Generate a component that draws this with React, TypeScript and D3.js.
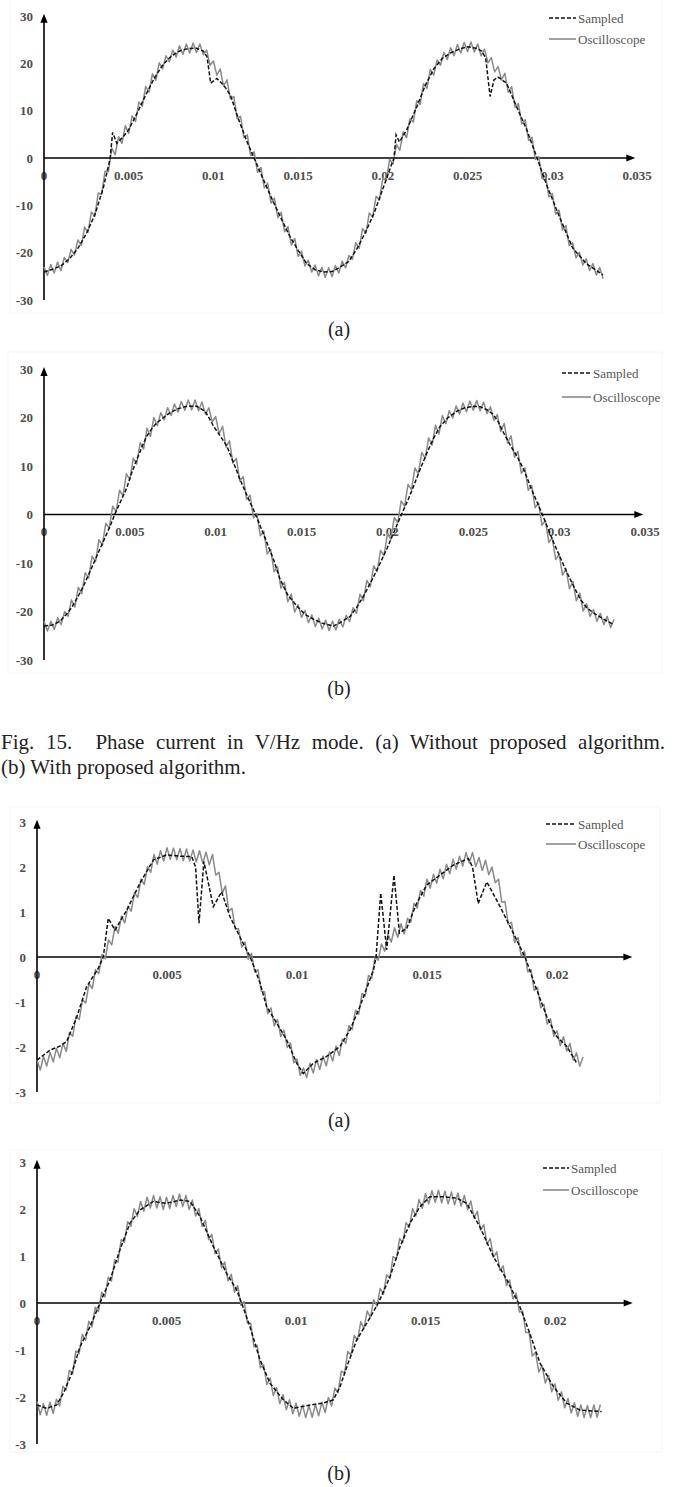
import { useEffect, useRef } from 'react';
import * as d3 from 'd3';

const SERIF = '"Liberation Serif", "Times New Roman", Times, serif';

// axis ticks
const FIG15_X_TICKS = [0, 0.005, 0.01, 0.015, 0.02, 0.025, 0.03, 0.035];
const FIG15_X_LABELS = ['0', '0.005', '0.01', '0.015', '0.02', '0.025', '0.03', '0.035'];
const FIG15_Y_TICKS = [30, 20, 10, 0, -10, -20, -30];
const FIG16_X_TICKS = [0, 0.005, 0.01, 0.015, 0.02];
const FIG16_X_LABELS = ['0', '0.005', '0.01', '0.015', '0.02'];
const FIG16_Y_TICKS = [3, 2, 1, 0, -1, -2, -3];

const SERIES_NAMES = ['Sampled', 'Oscilloscope'];
const PANEL_LABELS = ['(a)', '(b)'];
const CAPTION_LINES = [
  'Fig. 15.  Phase current in V/Hz mode. (a) Without proposed algorithm.',
  '(b) With proposed algorithm.',
];

// oscilloscope traces are stored on a fixed time step
const FIG15_SCOPE_DT = 0.0002;
const FIG16_SCOPE_DT = 0.000125;

// Fig. 15(a) — [time s, current A]
const fig15aSampled: [number, number][] = [
  [0, -24.1], [0.0005, -23.5], [0.001, -22.8], [0.0015, -21.3], [0.002, -19.1], [0.0025, -16.0],
  [0.003, -12.0], [0.0035, -6.3], [0.0039, -0.2], [0.00405, 5.4], [0.0043, 3.1], [0.0047, 4.6],
  [0.005, 6.0], [0.0055, 9.5], [0.006, 13.3], [0.0065, 16.8], [0.007, 19.6], [0.0075, 21.5],
  [0.008, 22.6], [0.0085, 23.1], [0.009, 23.2], [0.0094, 22.6], [0.00962, 21.4], [0.00984, 15.8],
  [0.0102, 16.8], [0.0106, 15.4], [0.011, 13.3], [0.0115, 8.0], [0.012, 3.3], [0.0124, 0],
  [0.013, -5.0], [0.0135, -9.0], [0.014, -12.8], [0.0145, -16.5], [0.015, -19.5], [0.0155, -22.3],
  [0.016, -23.6], [0.0165, -24.1], [0.017, -24.0], [0.0175, -23.0], [0.018, -21.8], [0.0185, -19.0],
  [0.019, -15.5], [0.0195, -11.5], [0.02, -6.5], [0.0205, -1.5], [0.02066, 0], [0.02078, 4.9],
  [0.02098, 3.4], [0.0214, 5.9], [0.022, 10.8], [0.0225, 15.3], [0.023, 18.8], [0.0235, 21.0],
  [0.024, 22.2], [0.0245, 23.0], [0.025, 23.5], [0.0255, 23.2], [0.02584, 22.6], [0.02607, 21.1],
  [0.02633, 13.0], [0.02656, 16.5], [0.0268, 17.1], [0.0273, 15.8], [0.0279, 10.8], [0.0285, 5.9],
  [0.0291, 0], [0.0297, -6.0], [0.0305, -13.1], [0.0312, -19.0], [0.032, -22.3], [0.033, -24.7],
];
const fig15aScope = [
  -23.0, -24.8, -22.5, -24.3, -22.0, -23.8, -21.0, -22.1, -19.3, -20.5,
  -17.3, -18.5, -14.6, -15.7, -11.4, -12.3, -7.4, -7.7, -2.8, -2.9,
  2.1, 0.7, 4.5, 3.1, 6.8, 5.2, 8.9, 7.7, 11.8, 10.9,
  15.1, 13.9, 17.8, 16.4, 20.1, 18.8, 21.6, 20.3, 22.8, 21.3,
  23.7, 21.9, 24.1, 22.2, 24.3, 22.3, 24.1, 21.8, 22.8, 19.6,
  20.5, 17.5, 18.8, 15.2, 16.5, 12.5, 13.0, 8.3, 8.8, 4.3,
  4.9, 0.5, 1.3, -3.0, -2.0, -6.3, -5.3, -9.5, -8.5, -12.6,
  -11.5, -15.6, -14.5, -18.4, -17.0, -20.8, -19.7, -22.8, -21.6, -24.1,
  -22.6, -24.9, -23.1, -25.2, -23.2, -25.1, -22.7, -24.3, -21.8, -23.2,
  -20.6, -21.4, -17.9, -19.1, -14.9, -15.9, -11.6, -12.5, -8.1, -8.8,
  -4.2, -4.8, -0.3, -1.3, 2.9, 1.6, 5.5, 4.3, 8.3, 7.6,
  12.1, 11.3, 15.7, 14.7, 18.7, 17.5, 20.7, 19.6, 22.3, 20.8,
  23.3, 21.6, 24.0, 22.2, 24.4, 22.5, 24.5, 22.4, 24.1, 21.6,
  23.0, 20.1, 21.2, 18.2, 19.3, 16.5, 17.9, 13.9, 15.1, 10.7,
  11.5, 7.2, 8.1, 3.7, 4.4, -0.3, 0.3, -4.3, -3.7, -8.2,
  -7.5, -11.9, -11.0, -15.2, -14.3, -18.5, -17.9, -21.1, -19.9, -22.6,
  -21.3, -23.8, -22.3, -24.7, -23.1, -25.5,
];

// Fig. 15(b)
const fig15bSampled: [number, number][] = [
  [0, -23.0], [0.0005, -22.8], [0.00093, -22.0], [0.0013, -20.6], [0.00161, -19.2], [0.002, -16.8],
  [0.00229, -14.8], [0.0027, -11.6], [0.00307, -8.6], [0.0035, -5.2], [0.00385, -2.4], [0.00414, 0.2],
  [0.0045, 3.0], [0.00482, 5.5], [0.0051, 8.5], [0.0054, 11.3], [0.0057, 13.9], [0.00598, 16.1],
  [0.0063, 17.8], [0.00657, 18.9], [0.007, 20.1], [0.00734, 21.0], [0.0078, 21.8], [0.00832, 22.3],
  [0.0089, 22.3], [0.00938, 21.3], [0.0096, 20.0], [0.00987, 18.2], [0.0103, 16.0], [0.01065, 14.1],
  [0.011, 11.0], [0.01142, 7.2], [0.0119, 3.3], [0.0123, 0.2], [0.01298, -5.8], [0.0134, -9.6],
  [0.01375, -13.4], [0.0142, -16.6], [0.01473, -18.9], [0.0152, -20.6], [0.01569, -21.6], [0.0162, -22.4],
  [0.01686, -23.0], [0.01725, -22.3], [0.01783, -21.0], [0.0182, -19.2], [0.01861, -16.8], [0.0191, -13.5],
  [0.01958, -10.0], [0.02, -6.8], [0.02036, -3.8], [0.02084, 0.2], [0.0212, 3.0], [0.02152, 5.8],
  [0.0219, 9.3], [0.0223, 12.7], [0.0227, 15.8], [0.02308, 18.2], [0.0235, 19.9], [0.02405, 21.3],
  [0.0245, 22.0], [0.02502, 22.3], [0.0254, 22.2], [0.0258, 21.6], [0.0261, 20.8], [0.02638, 19.6],
  [0.02677, 16.8], [0.0272, 14.0], [0.02755, 12.0], [0.028, 8.8], [0.02832, 5.8], [0.029, 0.2],
  [0.02968, -5.8], [0.03046, -12.0], [0.0309, -15.2], [0.03124, -17.5], [0.0316, -19.2], [0.03201, -20.3],
  [0.0326, -21.6], [0.03318, -22.7],
];
const fig15bScope = [
  -22.0, -24.0, -22.0, -23.7, -21.3, -22.7, -20.0, -21.0, -17.6, -19.1,
  -15.0, -16.3, -12.0, -13.1, -8.6, -9.7, -5.2, -6.3, -1.8, -2.8,
  1.7, 0.6, 5.0, 3.9, 8.4, 7.2, 11.6, 10.4, 14.8, 13.5,
  17.8, 16.1, 20.0, 18.3, 21.0, 19.5, 22.0, 20.4, 22.8, 21.1,
  23.3, 21.5, 23.6, 21.6, 23.6, 21.4, 23.2, 20.7, 22.0, 19.1,
  20.2, 16.6, 18.2, 13.9, 15.2, 10.6, 11.6, 6.9, 7.8, 3.1,
  4.0, -0.7, 0.2, -4.4, -3.4, -8.1, -7.2, -11.8, -10.8, -15.2,
  -14.0, -18.0, -16.4, -20.1, -18.6, -21.2, -19.8, -22.3, -20.7, -23.1,
  -21.4, -23.6, -21.8, -23.9, -22.0, -23.8, -21.6, -23.2, -20.8, -22.1,
  -19.2, -20.4, -16.4, -17.8, -13.6, -14.9, -10.6, -11.8, -7.4, -8.5,
  -4.0, -5.1, -0.6, -1.7, 2.8, 1.7, 6.2, 5.1, 9.6, 8.4,
  12.8, 11.5, 15.8, 14.3, 18.4, 16.6, 20.4, 18.7, 21.4, 19.9,
  22.4, 20.7, 23.0, 21.2, 23.4, 21.5, 23.5, 21.4, 23.2, 20.8,
  22.2, 19.4, 20.6, 17.1, 18.8, 14.7, 16.2, 11.8, 13.0, 8.5,
  9.6, 5.0, 6.0, 1.4, 2.4, -2.2, -1.2, -5.8, -4.8, -9.3,
  -8.2, -12.5, -11.2, -15.3, -13.8, -17.8, -16.2, -19.9, -18.4, -21.0,
  -19.6, -22.0, -20.4, -22.7, -21.0, -23.3, -21.6,
];

// Fig. 16(a)
const fig16aSampled: [number, number][] = [
  [0, -2.29], [0.0005, -2.07], [0.00088, -1.98], [0.00114, -1.88], [0.00153, -1.33], [0.00191, -0.66],
  [0.00236, -0.25], [0.00255, 0], [0.00274, 0.86], [0.003, 0.6], [0.00345, 1.04], [0.00396, 1.64],
  [0.00448, 2.16], [0.00499, 2.27], [0.0055, 2.24], [0.00595, 2.23], [0.0061, 2.0], [0.00623, 0.75],
  [0.00642, 2.12], [0.00678, 1.12], [0.0071, 1.45], [0.00742, 0.9], [0.0078, 0.45], [0.0082, 0],
  [0.00858, -0.58], [0.00883, -1.1], [0.00922, -1.47], [0.0096, -1.84], [0.00999, -2.36], [0.01024, -2.59],
  [0.01063, -2.36], [0.01114, -2.21], [0.01165, -1.99], [0.01204, -1.62], [0.01242, -1.1], [0.01294, -0.29],
  [0.01304, 0], [0.01322, 1.42], [0.01345, 0.16], [0.01373, 1.82], [0.01394, 0.53], [0.01422, 0.64],
  [0.0146, 1.19], [0.01499, 1.6], [0.0155, 1.82], [0.01601, 2.04], [0.01659, 2.19], [0.01675, 2.0],
  [0.01697, 1.19], [0.0173, 1.67], [0.01781, 1.12], [0.01832, 0.53], [0.01877, 0], [0.01922, -0.73],
  [0.01961, -1.33], [0.01999, -1.77], [0.02038, -1.99], [0.02076, -2.36],
];
const fig16aScope = [
  -2.29, -2.51, -2.21, -2.42, -2.12, -2.33, -2.03, -2.24, -1.92, -2.10,
  -1.68, -1.76, -1.32, -1.39, -0.95, -1.02, -0.59, -0.70, -0.28, -0.37,
  0.06, -0.04, 0.38, 0.27, 0.68, 0.53, 0.91, 0.76, 1.13, 1.02,
  1.43, 1.32, 1.73, 1.61, 2.01, 1.88, 2.28, 2.06, 2.36, 2.13,
  2.43, 2.17, 2.42, 2.16, 2.41, 2.14, 2.40, 2.13, 2.38, 2.11,
  2.36, 2.08, 2.33, 2.05, 2.28, 1.82, 1.88, 1.42, 1.58, 1.02,
  1.08, 0.62, 0.63, 0.22, 0.33, -0.05, 0.08, -0.33, -0.28, -0.76,
  -0.77, -1.26, -1.13, -1.53, -1.39, -1.77, -1.63, -2.01, -1.91, -2.35,
  -2.27, -2.63, -2.47, -2.68, -2.36, -2.58, -2.28, -2.50, -2.20, -2.42,
  -2.11, -2.31, -1.98, -2.19, -1.82, -1.92, -1.52, -1.61, -1.18, -1.27,
  -0.81, -0.87, -0.41, -0.47, 0.00, -0.07, 0.29, 0.13, 0.50, 0.33,
  0.65, 0.44, 0.74, 0.51, 0.86, 0.77, 1.19, 1.09, 1.48, 1.35,
  1.73, 1.53, 1.84, 1.64, 1.95, 1.74, 2.06, 1.85, 2.17, 1.95,
  2.24, 2.02, 2.32, 2.09, 2.32, 2.01, 2.21, 1.92, 2.15, 1.83,
  2.00, 1.65, 1.73, 1.22, 1.23, 0.73, 0.77, 0.32, 0.43, 0.02,
  0.13, -0.33, -0.28, -0.74, -0.68, -1.13, -1.05, -1.49, -1.37, -1.76,
  -1.64, -1.97, -1.77, -2.09, -1.92, -2.29, -2.13, -2.43, -2.22,
];

// Fig. 16(b)
const fig16bSampled: [number, number][] = [
  [0, -2.17], [0.00037, -2.24], [0.00076, -2.17], [0.00102, -1.92], [0.00134, -1.5], [0.00166, -0.93],
  [0.00205, -0.5], [0.00243, 0], [0.00282, 0.49], [0.0032, 1.13], [0.00359, 1.7], [0.00398, 1.98],
  [0.00449, 2.16], [0.005, 2.12], [0.00552, 2.19], [0.00591, 2.16], [0.00629, 1.84], [0.00681, 1.2],
  [0.00732, 0.63], [0.00771, 0.28], [0.0079, 0], [0.00822, -0.5], [0.00861, -1.21], [0.009, -1.71],
  [0.00951, -2.06], [0.0099, -2.24], [0.01054, -2.17], [0.01105, -2.13], [0.01144, -2.06], [0.0117, -1.78],
  [0.01196, -1.36], [0.01234, -0.79], [0.01273, -0.43], [0.01318, 0], [0.01363, 0.56], [0.01402, 1.2],
  [0.0144, 1.7], [0.01479, 2.05], [0.01517, 2.26], [0.01569, 2.26], [0.01621, 2.23], [0.01659, 2.12],
  [0.0171, 1.62], [0.01762, 0.99], [0.01814, 0.49], [0.01859, 0], [0.01903, -0.65], [0.01942, -1.28],
  [0.01994, -1.78], [0.02045, -2.13], [0.02097, -2.28], [0.0218, -2.31],
];
const fig16bScope = [
  -2.09, -2.38, -2.14, -2.39, -2.11, -2.35, -2.05, -2.19, -1.77, -1.85,
  -1.43, -1.51, -1.02, -1.08, -0.67, -0.79, -0.39, -0.51, -0.09, -0.18,
  0.23, 0.13, 0.55, 0.47, 0.92, 0.87, 1.35, 1.29, 1.73, 1.63,
  2.01, 1.84, 2.16, 1.95, 2.25, 2.02, 2.29, 2.02, 2.26, 1.99,
  2.25, 2.01, 2.29, 2.05, 2.32, 2.05, 2.29, 1.99, 2.19, 1.85,
  2.01, 1.63, 1.76, 1.35, 1.46, 1.05, 1.15, 0.75, 0.87, 0.47,
  0.61, 0.23, 0.37, -0.05, 0.03, -0.43, -0.43, -0.93, -0.90, -1.38,
  -1.31, -1.73, -1.60, -1.97, -1.80, -2.14, -1.95, -2.27, -2.06, -2.36,
  -2.13, -2.41, -2.17, -2.44, -2.18, -2.43, -2.16, -2.40, -2.11, -2.33,
  -2.01, -2.19, -1.81, -1.91, -1.45, -1.49, -1.03, -1.11, -0.69, -0.79,
  -0.40, -0.54, -0.17, -0.31, 0.07, -0.07, 0.31, 0.19, 0.60, 0.52,
  0.99, 0.93, 1.37, 1.29, 1.71, 1.61, 2.01, 1.85, 2.20, 2.01,
  2.33, 2.11, 2.39, 2.14, 2.40, 2.13, 2.38, 2.11, 2.36, 2.09,
  2.34, 2.06, 2.29, 1.99, 2.17, 1.81, 1.95, 1.55, 1.67, 1.25,
  1.37, 0.97, 1.09, 0.69, 0.79, 0.37, 0.49, 0.09, 0.21, -0.19,
  -0.17, -0.63, -0.63, -1.13, -1.05, -1.47, -1.33, -1.70, -1.54, -1.89,
  -1.72, -2.07, -1.89, -2.23, -2.03, -2.34, -2.12, -2.41, -2.17, -2.44,
  -2.18, -2.44, -2.17, -2.43, -2.16,
];

type Pt = [number, number];
type PanelCfg = {
  sampled: Pt[];
  scope: number[];
  dt: number;
  xTicks: number[];
  xLabels: string[];
  yTicks: number[];
  xDomain: [number, number];
  xRange: [number, number];
  yDomain: [number, number];
  yRange: [number, number];
  xTip: number;
  yTip: number;
  legend: { x: number; y: number; gap: number; len: number };
  label: string;
  labelY: number;
  frame: [number, number, number, number];
};

const PANELS: PanelCfg[] = [
  {
    sampled: fig15aSampled, scope: fig15aScope, dt: FIG15_SCOPE_DT,
    xTicks: FIG15_X_TICKS, xLabels: FIG15_X_LABELS, yTicks: FIG15_Y_TICKS,
    xDomain: [0, 0.035], xRange: [44, 637], yDomain: [-30, 30], yRange: [300, 16],
    xTip: 0.0349, yTip: 30.5,
    legend: { x: 549, y: 18, gap: 21, len: 27 },
    label: PANEL_LABELS[0], labelY: 329, frame: [10, -2, 662, 313],
  },
  {
    sampled: fig15bSampled, scope: fig15bScope, dt: FIG15_SCOPE_DT,
    xTicks: FIG15_X_TICKS, xLabels: FIG15_X_LABELS, yTicks: FIG15_Y_TICKS,
    xDomain: [0, 0.035], xRange: [44, 645], yDomain: [-30, 30], yRange: [660, 369],
    xTip: 0.0349, yTip: 30.4,
    legend: { x: 562, y: 373, gap: 24, len: 29 },
    label: PANEL_LABELS[1], labelY: 688, frame: [8, 352, 662, 673],
  },
  {
    sampled: fig16aSampled, scope: fig16aScope, dt: FIG16_SCOPE_DT,
    xTicks: FIG16_X_TICKS, xLabels: FIG16_X_LABELS, yTicks: FIG16_Y_TICKS,
    xDomain: [0, 0.02], xRange: [37, 557], yDomain: [-3, 3], yRange: [1092, 822],
    xTip: 0.0229, yTip: 3.05,
    legend: { x: 546, y: 824, gap: 20, len: 30 },
    label: PANEL_LABELS[0], labelY: 1120, frame: [10, 807, 660, 1103],
  },
  {
    sampled: fig16bSampled, scope: fig16bScope, dt: FIG16_SCOPE_DT,
    xTicks: FIG16_X_TICKS, xLabels: FIG16_X_LABELS, yTicks: FIG16_Y_TICKS,
    xDomain: [0, 0.02], xRange: [37, 555], yDomain: [-3, 3], yRange: [1444, 1162],
    xTip: 0.023, yTip: 3.05,
    legend: { x: 543, y: 1168, gap: 22, len: 26 },
    label: PANEL_LABELS[1], labelY: 1473, frame: [10, 1150, 662, 1452],
  },
];

const SAMPLED_COLOR = '#111';
const SCOPE_COLOR = '#8a8a8a';
const TICK_COLOR = '#4d4d4d';

function Panel({ p }: { p: PanelCfg }) {
  const x = d3.scaleLinear().domain(p.xDomain).range(p.xRange);
  const y = d3.scaleLinear().domain(p.yDomain).range(p.yRange);
  const line = d3.line<Pt>().x((d) => x(d[0])).y((d) => y(d[1]));
  const scopePts: Pt[] = p.scope.map((v, i) => [i * p.dt, v]);

  const x0 = x(0), y0 = y(0);
  const xEnd = x(p.xTip), yTop = y(p.yTip), yBot = y(p.yDomain[0]);
  const ah = 9, aw = 3.6;
  const lg = p.legend;

  return (
    <g>
      <rect x={p.frame[0]} y={p.frame[1]} width={p.frame[2] - p.frame[0]} height={p.frame[3] - p.frame[1]}
        fill="none" stroke="#f5f5f5" />

      {/* tick labels */}
      <g fontFamily={SERIF} fontWeight="bold" fontSize={13} fill={TICK_COLOR}>
        {p.xTicks.map((t, i) => (
          <text key={`x${i}`} x={x(t)} y={y0 + 17} textAnchor="middle" dominantBaseline="central">{p.xLabels[i]}</text>
        ))}
        {p.yTicks.map((v) => (
          <text key={`y${v}`} x={x0 - 11} y={y(v)} textAnchor="end" dominantBaseline="central">{String(v)}</text>
        ))}
      </g>

      {/* arrowed axes */}
      <line x1={x0} x2={xEnd - ah + 1} y1={y0} y2={y0} stroke="#000" strokeWidth={1.6} />
      <path d={`M${xEnd},${y0}L${xEnd - ah},${y0 - aw}L${xEnd - ah},${y0 + aw}Z`} fill="#000" />
      <line x1={x0} x2={x0} y1={yBot} y2={yTop + ah - 1} stroke="#000" strokeWidth={1.6} />
      <path d={`M${x0},${yTop}L${x0 - aw},${yTop + ah}L${x0 + aw},${yTop + ah}Z`} fill="#000" />

      {/* series */}
      <path d={line(scopePts) ?? ''} fill="none" stroke={SCOPE_COLOR} strokeWidth={1.5} strokeLinejoin="round" />
      <path d={line(p.sampled) ?? ''} fill="none" stroke={SAMPLED_COLOR} strokeWidth={1.5} strokeDasharray="4 2" />

      {/* legend */}
      <g fontFamily={SERIF} fontSize={13} fill="#555">
        <line x1={lg.x} x2={lg.x + lg.len} y1={lg.y} y2={lg.y} stroke={SAMPLED_COLOR} strokeWidth={1.5} strokeDasharray="4 2" />
        <text x={lg.x + lg.len + 2} y={lg.y} dominantBaseline="central">{SERIES_NAMES[0]}</text>
        <line x1={lg.x} x2={lg.x + lg.len} y1={lg.y + lg.gap} y2={lg.y + lg.gap} stroke={SCOPE_COLOR} strokeWidth={1.6} />
        <text x={lg.x + lg.len + 2} y={lg.y + lg.gap} dominantBaseline="central">{SERIES_NAMES[1]}</text>
      </g>

      <text x={339} y={p.labelY} textAnchor="middle" dominantBaseline="central"
        fontFamily={SERIF} fontSize={20} fill="#222">{p.label}</text>
    </g>
  );
}

// first caption line is justified to the column width
function CaptionLine({ text, x0, x1, y, justify }: { text: string; x0: number; x1: number; y: number; justify: boolean }) {
  const ref = useRef<SVGTextElement>(null);
  useEffect(() => {
    const el = ref.current;
    if (!el || !justify) return;
    el.style.wordSpacing = '0px';
    const natural = el.getComputedTextLength();
    const gaps = (text.match(/ /g) || []).length;
    if (gaps > 0) el.style.wordSpacing = `${(x1 - x0 - natural) / gaps}px`;
  }, [text, x0, x1, justify]);
  return (
    <text ref={ref} x={x0} y={y} fontFamily={SERIF} fontSize={21} fill="#222" style={{ whiteSpace: 'pre' }}>
      {text}
    </text>
  );
}

export default function App() {
  return (
    <svg width={681} height={1487} viewBox="0 0 681 1487"
      style={{ position: 'absolute', left: 0, top: 0, background: '#fff' }}>
      <rect width={681} height={1487} fill="#fff" />
      {PANELS.map((p, i) => <Panel key={i} p={p} />)}
      <CaptionLine text={CAPTION_LINES[0]} x0={1} x1={665} y={749} justify />
      <CaptionLine text={CAPTION_LINES[1]} x0={1} x1={665} y={774} justify={false} />
    </svg>
  );
}
